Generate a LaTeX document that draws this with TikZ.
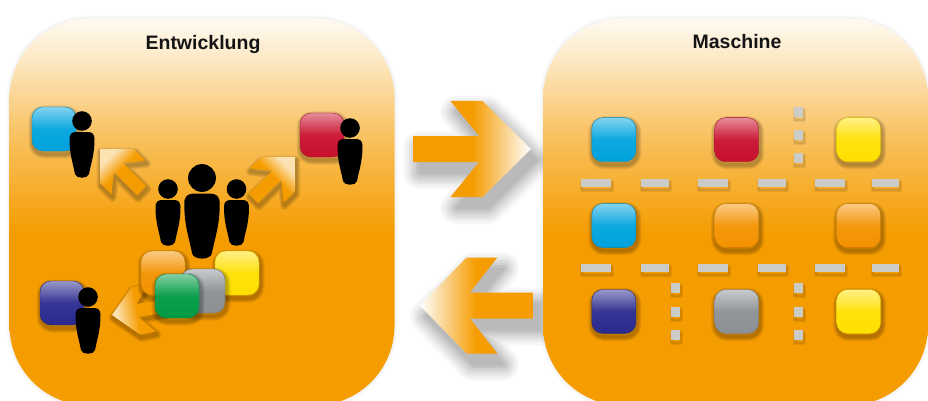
\documentclass[tikz,border=0pt]{standalone}
\usepackage{fontspec}
\setmainfont{Liberation Sans}
\definecolor{panelorange}{HTML}{F59C00}
\definecolor{tileblue}{HTML}{00A3DE}
\definecolor{tilered}{HTML}{C8102E}
\definecolor{tileyellow}{HTML}{FFE000}
\definecolor{tileorange}{HTML}{F39200}
\definecolor{tilenavy}{HTML}{2A2A8F}
\definecolor{tilegray}{HTML}{8C9094}
\definecolor{tilegreen}{HTML}{009A44}
\definecolor{dashgray}{HTML}{CBCBC8}
\pgfdeclareverticalshading{panelfade}{100bp}{
  color(0bp)=(panelorange); color(47bp)=(panelorange);
  color(60bp)=(panelorange!62!white); color(70bp)=(panelorange!22!white);
  color(75bp)=(panelorange!5!white); color(100bp)=(white)}
\pgfdeclarehorizontalshading{arrowfade}{100bp}{
  color(0bp)=(panelorange); color(50bp)=(panelorange);
  color(75bp)=(white); color(100bp)=(white)}
\pgfdeclarehorizontalshading{smallfade}{100bp}{
  color(0bp)=(panelorange); color(54bp)=(panelorange);
  color(72bp)=(panelorange!30!white); color(100bp)=(panelorange!30!white)}

\begin{document}
\begin{tikzpicture}[
  x=1pt, y=-1pt,
  shadowlayer/.style={preaction={draw=black, opacity=.07, line width=#1,
              line join=round, transform canvas={xshift=1pt, yshift=-3pt}}},
  softshadow/.style={shadowlayer=9pt, shadowlayer=7pt, shadowlayer=5pt,
              shadowlayer=3pt},
  edgelayer/.style={preaction={draw=black, opacity=.025, line width=#1}},
  farlayer/.style 2 args={preaction={draw=black!#2, fill=black!#2, line width=#1,
              line join=round, transform canvas={xshift=6pt, yshift=-11pt}}},
  wideshadow/.style={farlayer={32pt}{3}, farlayer={27pt}{6}, farlayer={22pt}{10},
              farlayer={17pt}{14}, farlayer={12pt}{18}, farlayer={7pt}{23},
              farlayer={2pt}{27}},
  panel/.style={rectangle, rounded corners=80pt, minimum width=385pt, minimum height=387pt,
              inner sep=0pt, shading=panelfade, edgelayer=6pt, edgelayer=3pt},
  title/.style={anchor=base, inner sep=0pt, text=black!92,
              font=\fontsize{19.5}{22}\selectfont\bfseries},
  tile/.style={rectangle, rounded corners=11pt, minimum size=44pt, inner sep=0pt,
              draw=#1!85!black, line width=.4pt, top color=#1!48!white,
              bottom color=#1, middle color=#1!95!white, softshadow},
  dashbar/.style={rectangle, fill=dashgray, inner sep=0pt, minimum height=8.5pt,
              shadowlayer=4pt, shadowlayer=2pt},
  dotbar/.style={rectangle, fill=dashgray, inner sep=0pt, minimum width=9pt,
              minimum height=10pt, shadowlayer=4pt, shadowlayer=2pt},
  pics/person/.style={code={
    \path[fill=black] (0,0) circle[radius=9.8];
    \path[fill=black] (-12.5,18) .. controls (-12.5,13) and (-10,11) .. (-6,11) -- (6,11)
      .. controls (10,11) and (12.5,13) .. (12.5,18)
      .. controls (12.5,34) and (9,42) .. (7,53)
      .. controls (6,58) and (-6,58) .. (-7,53)
      .. controls (-9,42) and (-12.5,34) .. (-12.5,18) -- cycle;
  }},
  pics/chevron/.style n args={3}{code={
    \path[#3, shading=#2, shading angle=#1]
      (-80.5,-48) -- (-48.5,-48) -- (0,0) -- (-48.5,48) -- (-80.5,48) -- (-52,13)
      -- (-117.5,13) -- (-117.5,-13) -- (-52,-13) -- cycle;
  }}
]
\useasboundingbox (0,0) rectangle (928,401);

% arrows between the panels
\pic (toright) at (531,149) {chevron={0}{arrowfade}{wideshadow}};
\pic (toleft) [rotate=180, xscale=.96] at (420,305.5) {chevron={180}{arrowfade}{wideshadow}};

\node (entwicklung) [panel] at (202,212) {};
\node (maschine) [panel] at (735.5,212) {};
\node (entwicklungtitle) [title] at (203,50) {Entwicklung};
\node (maschinetitle) [title] at (737,49) {Maschine};

% team in the middle
\pic (toblue) [scale=.5, rotate=135] at (100,149) {chevron={135}{smallfade}{softshadow}};
\pic (tored) [scale=.5, rotate=45] at (295,157) {chevron={45}{smallfade}{softshadow}};
\pic (tonavy) [scale=.5, rotate=190] at (112,315) {chevron={190}{smallfade}{softshadow}};

\pic (teamleft) at (168,189) {person};
\pic (teamright) at (236.5,189) {person};
\pic (teamlead) [scale=1.42] at (202,178) {person};

\node (devorange) [tile=tileorange] at (163,273) {};
\node (devyellow) [tile=tileyellow] at (237,273) {};
\node (devgray) [tile=tilegray] at (203,291) {};
\node (devgreen) [tile=tilegreen] at (177,296) {};

% developers with their tile
\node (devblue) [tile=tileblue] at (54,129) {};
\node (devred) [tile=tilered] at (322,135) {};
\node (devnavy) [tile=tilenavy] at (62,303) {};
\pic (blueperson) at (82,121) {person};
\pic (redperson) at (350,128) {person};
\pic (navyperson) at (88,297) {person};

% machine grid
\foreach \col/\row/\shade [count=\i] in {613.8/139.7/tileblue, 736.7/139.7/tilered,
    858.6/139.7/tileyellow, 613.8/225.6/tileblue, 736.7/225.6/tileorange,
    858.6/225.6/tileorange, 613.8/311.5/tilenavy, 736.7/311.5/tilegray,
    858.6/311.5/tileyellow}
  \node (cell\i) [tile=\shade] at (\col,\row) {};

\foreach \row in {183,268}
  \foreach \mid/\wid in {596/30, 655/28, 713/30, 771.5/28, 830/30, 885.5/27}
    \node (dash\row-\mid) [dashbar, minimum width=\wid pt] at (\mid,\row) {};

\foreach \col/\row in {798/112, 798/135, 798/158, 675.4/288, 675.4/311.5, 675.4/335,
    798/288, 798/311.5, 798/335}
  \node (dot\col-\row) [dotbar] at (\col,\row) {};
\end{tikzpicture}
\end{document}
